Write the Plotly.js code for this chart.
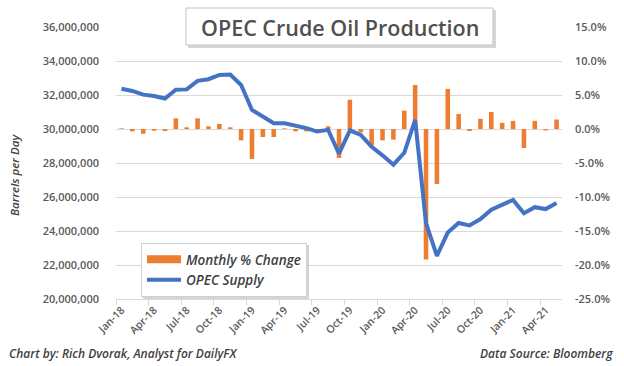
<!DOCTYPE html>
<html><head><meta charset="utf-8">
<script src="https://cdn.plot.ly/plotly-3.0.1.min.js"></script>
<style>html,body{margin:0;padding:0;background:#fff}#chart{width:624px;height:366px}</style>
</head><body><div id="chart"></div>
<script>
const months = ['Jan-18','Feb-18','Mar-18','Apr-18','May-18','Jun-18','Jul-18','Aug-18','Sep-18','Oct-18','Nov-18','Dec-18',
  'Jan-19','Feb-19','Mar-19','Apr-19','May-19','Jun-19','Jul-19','Aug-19','Sep-19','Oct-19','Nov-19','Dec-19',
  'Jan-20','Feb-20','Mar-20','Apr-20','May-20','Jun-20','Jul-20','Aug-20','Sep-20','Oct-20','Nov-20','Dec-20',
  'Jan-21','Feb-21','Mar-21','Apr-21','May-21'];
const opecSupply = [32370000,32240000,32020000,31940000,31790000,32310000,32330000,32830000,32930000,33180000,33200000,32590000,
  31120000,30750000,30340000,30340000,30200000,30050000,29850000,29950000,28550000,29920000,29650000,28950000,
  28450000,27900000,28600000,30530000,24470000,22540000,23910000,24470000,24330000,24700000,25250000,25540000,
  25830000,25050000,25400000,25290000,25640000];
const monthlyChange = [0.1,-0.35,-0.7,-0.25,-0.3,1.57,0.25,1.57,0.4,0.75,0.25,-1.67,
  -4.4,-1.18,-1.18,0.1,-0.35,-0.35,-0.1,0.4,-4.26,4.3,-0.5,-2.4,
  -1.67,-1.57,2.7,6.47,-19.2,-8.1,5.9,2.2,-0.3,1.5,2.5,0.9,
  1.2,-2.8,1.2,-0.2,1.4];
const tickMonths = ['Jan-18','Apr-18','Jul-18','Oct-18','Jan-19','Apr-19','Jul-19','Oct-19','Jan-20','Apr-20','Jul-20','Oct-20','Jan-21','Apr-21'];
const leftTicks = [20000000,22000000,24000000,26000000,28000000,30000000,32000000,34000000,36000000];
const rightTicks = [-25,-20,-15,-10,-5,0,5,10,15];
const seriesNames = ['Monthly % Change','OPEC Supply'];
const chartTitle = 'OPEC Crude Oil Production';
const yTitle = 'Barrels per Day';
const footLeft = 'Chart by: Rich Dvorak, Analyst for DailyFX';
const footRight = 'Data Source: Bloomberg';

const idx = months.map((m,i)=>i);
const M = {l:116, r:62, t:27, b:67};
const PW = 624 - M.l - M.r, PH = 366 - M.t - M.b;
const px = v => (v - M.l) / PW;
const py = v => (366 - M.b - v) / PH;

const FONT = 'Open Sans, Arial, sans-serif';
const gray = '#595959';
const orange = '#ED7D31', blue = '#4472C4';
const LEG = {x:141, y:243};

const traces = [
  // legend swatch only (wide rectangle like the original legend key)
  {type:'scatter', mode:'lines', name:seriesNames[0], x:[null], y:[null], yaxis:'y', xaxis:'x',
   line:{color:orange, width:8}, legendgroup:'chg'},
  {type:'bar', name:seriesNames[0], x:idx, y:monthlyChange, yaxis:'y', xaxis:'x',
   marker:{color:orange}, width:0.42, showlegend:false, legendgroup:'chg'},
  {type:'scatter', mode:'lines', name:seriesNames[1], x:idx, y:opecSupply, yaxis:'y2', xaxis:'x',
   line:{color:blue, width:4}}
];

const layout = {
  width:624, height:366, margin:M, paper_bgcolor:'#fff', plot_bgcolor:'#fff',
  font:{family:FONT, color:gray, size:11},
  showlegend:true,
  legend:{x:px(LEG.x), y:py(LEG.y), xanchor:'left', yanchor:'top', bgcolor:'#fff', bordercolor:'#d0d0d0', borderwidth:1,
    font:{family:FONT, size:13.5, color:'#404040', style:'italic', weight:600}, traceorder:'normal', tracegroupgap:0, itemwidth:34},
  xaxis:{range:[-0.5, months.length-0.5], tickvals:tickMonths.map(m=>months.indexOf(m)), ticktext:tickMonths,
    tickangle:-45, ticks:'', showgrid:false, zeroline:false, showline:true, linecolor:'#d9d9d9', linewidth:1,
    tickfont:{family:FONT, size:10.5, color:gray, weight:600},
    minor:{tickvals:tickMonths.map(m=>months.indexOf(m)-0.5), ticks:'outside', ticklen:5, tickcolor:'#d9d9d9', showgrid:false}},
  yaxis:{side:'right', range:[-25,15], tickvals:rightTicks, ticktext:rightTicks.map(v=>v.toFixed(1)+'%'),
    showgrid:false, zeroline:false, showline:false, ticks:'', ticklabelstandoff:12,
    tickfont:{family:FONT, size:11, color:gray, weight:600}},
  yaxis2:{overlaying:'y', side:'left', range:[20000000,36000000], tickvals:leftTicks, tickformat:',',
    showgrid:true, gridcolor:'#d9d9d9', gridwidth:1, zeroline:false, showline:false, ticks:'', ticklabelstandoff:16,
    tickfont:{family:FONT, size:11, color:gray, weight:600}},
  shapes:[
    {type:'rect', xref:'paper', yref:'paper', x0:px(188), x1:px(496), y0:py(10), y1:py(48), line:{width:0}, fillcolor:'rgba(0,0,0,0.16)', layer:'above'},
    {type:'rect', xref:'paper', yref:'paper', x0:px(186), x1:px(493), y0:py(8), y1:py(45), line:{width:1, color:'#c4c4c4'}, fillcolor:'#fff', layer:'above'},
    {type:'rect', xref:'paper', yref:'paper', x0:px(LEG.x+2), x1:px(LEG.x+2), y0:py(LEG.y+2), y1:py(LEG.y+2), line:{width:0}, fillcolor:'rgba(0,0,0,0.16)', layer:'above'}
  ],
  annotations:[
    {text:chartTitle, xref:'paper', yref:'paper', x:px(340), y:py(27), xanchor:'center', yanchor:'middle', showarrow:false,
     font:{family:FONT, size:21.5, color:'#505050', weight:600}},
    {text:yTitle, xref:'paper', yref:'paper', x:px(14), y:py(175), xanchor:'center', yanchor:'middle', textangle:-90, showarrow:false,
     font:{family:FONT, size:11.5, color:'#404040', style:'italic', weight:600}},
    {text:footLeft, xref:'paper', yref:'paper', x:px(7), y:py(353), xanchor:'left', yanchor:'middle', showarrow:false,
     font:{family:FONT, size:12, color:'#404040', style:'italic', weight:600}},
    {text:footRight, xref:'paper', yref:'paper', x:px(615), y:py(353), xanchor:'right', yanchor:'middle', showarrow:false,
     font:{family:FONT, size:12, color:'#404040', style:'italic', weight:600}}
  ]
};
Plotly.newPlot('chart', traces, layout, {displayModeBar:false, staticPlot:true}).then(gd => {
  const lg = gd._fullLayout.legend;
  const w = lg._width || 170, h = lg._height || 42;
  Plotly.relayout(gd, {
    'shapes[2].x0': px(LEG.x+2), 'shapes[2].x1': px(LEG.x+w+2),
    'shapes[2].y0': py(LEG.y+2), 'shapes[2].y1': py(LEG.y+h+2)
  });
});
</script></body></html>
